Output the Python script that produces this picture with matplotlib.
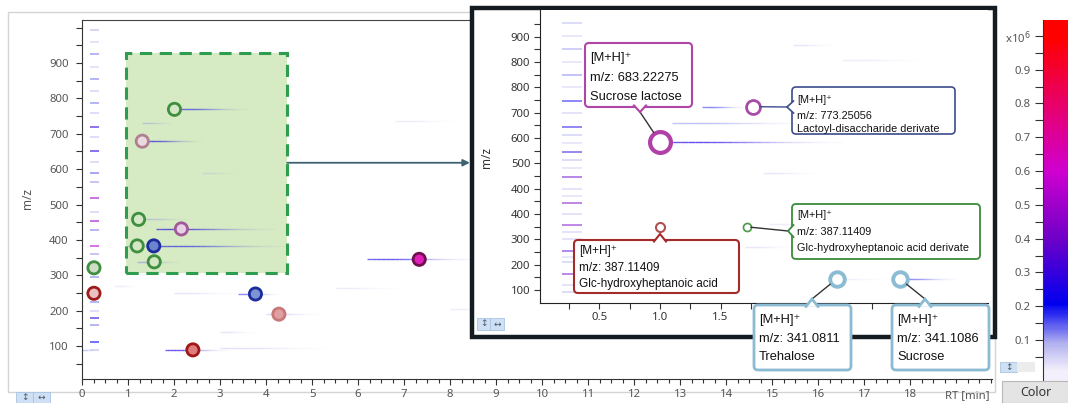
import numpy as np
import matplotlib
matplotlib.use("Agg")
import matplotlib.pyplot as plt
from matplotlib.colors import LinearSegmentedColormap
from matplotlib.patches import Rectangle, FancyBboxPatch, Polygon
from matplotlib.lines import Line2D
from matplotlib.collections import LineCollection

# ---- main chart: annotated features (RT [min], m/z)
main_rt = [2.01, 1.31, 1.23, 2.16, 1.20, 1.56, 1.57, 0.26, 7.33, 0.26, 3.77, 4.28, 2.41]
main_mz = [769, 679, 458, 431, 383, 383, 338, 321, 345, 249, 247, 190, 89]
main_edge = ['#3f8f3f', '#b08090', '#3f8f3f', '#a05898', '#3f8f3f', '#1c2c9c', '#3f8f3f',
             '#3f8f3f', '#701050', '#9c1c1c', '#1c2c9c', '#c87878', '#a01818']
main_face = ['#d4e8c6', '#eadadf', '#d4e8c6', '#e6d2e4', '#d4e8c6', '#6c84cc', '#d4e8c6',
             '#cfdcc6', '#e020b8', '#ecc0c0', '#7c94d4', '#e0a0a0', '#e07c7c']

# ion traces in main chart: (rt start, rt end, m/z, intensity 0-1)
main_streaks = [(2.05, 3.6, 769, 0.16), (1.35, 2.6, 679, 0.2), (1.25, 2.4, 458, 0.08),
                (1.6, 4.2, 431, 0.21), (1.6, 4.5, 383, 0.17), (1.0, 1.5, 383, 0.12),
                (1.2, 2.2, 338, 0.1), (6.2, 8.6, 345, 0.2), (3.4, 4.3, 247, 0.15),
                (4.0, 5.2, 190, 0.07), (1.8, 3.2, 89, 0.22), (3.0, 5.5, 95, 0.06),
                (1.3, 2.0, 730, 0.08), (6.8, 8.2, 735, 0.04), (9.5, 10.5, 560, 0.04),
                (8.0, 9.0, 205, 0.04), (2.0, 3.5, 250, 0.05), (3.0, 3.8, 140, 0.05),
                (0.0, 0.3, 90, 0.1), (5.5, 7.0, 265, 0.04), (2.6, 3.4, 590, 0.05),
                (0.7, 1.2, 270, 0.04)]
# short dashes of the early-eluting column
main_col_mz = [993, 960, 925, 890, 856, 820, 788, 760, 719, 690, 652, 620, 588, 564, 519,
               480, 452, 428, 382, 360, 330, 296, 260, 225, 200, 180, 158, 112, 90]
main_col_lv = [0.08, 0.05, 0.12, 0.05, 0.12, 0.06, 0.12, 0.06, 0.3, 0.06, 0.28, 0.06, 0.14,
               0.1, 0.5, 0.06, 0.5, 0.12, 0.55, 0.1, 0.06, 0.12, 0.06, 0.12, 0.06, 0.28,
               0.12, 0.2, 0.08]

# zoom rectangle (rt0, rt1, mz0, mz1)
zoom_rt = (0.96, 4.46)
zoom_mz = (307, 928)

# ---- inset (zoomed view)
ins_x = [1.0, 1.765, 1.0, 1.716, 2.458, 2.98]
ins_y = [685, 824, 347, 349, 143, 143]
ins_size = [15.0, 10, 6.5, 5.8, 10.5, 10.5]
ins_lw = [3.0, 2.0, 1.5, 1.2, 2.8, 2.8]
ins_edge = ['#b040a8', '#a84aa8', '#b05050', '#4a9a4a', '#8cbcd4', '#8cbcd4']
ins_xticks = [0.5, 1.0, 1.5, 2.0, 2.5, 3.0, 3.5]
ins_xtick_labels = ['0.5', '1.0', '1.5', '', '', '', '']   # the rest sit under the callouts
ins_ytick_labels = ['100', '200', '300', '400', '400', '500', '600', '700', '800', '800', '900']
ins_streaks = [(1.05, 2.5, 685, 0.22), (1.35, 1.72, 824, 0.15), (1.1, 2.3, 759, 0.1),
               (2.1, 2.45, 1067, 0.05), (1.85, 2.3, 561, 0.05), (1.7, 2.1, 268, 0.05),
               (3.0, 3.45, 143, 0.14), (2.4, 2.9, 143, 0.04), (2.5, 3.2, 1010, 0.04),
               (1.9, 2.4, 360, 0.04)]
ins_col_mz = [1156, 1105, 1051, 1000, 949, 900, 847, 800, 745, 712, 680, 643, 613, 580, 547,
              500, 470, 442, 400, 356, 330, 300, 255, 230, 210, 162, 120, 92]
ins_col_lv = [0.08, 0.05, 0.1, 0.05, 0.12, 0.05, 0.22, 0.06, 0.24, 0.08, 0.05, 0.26, 0.08,
              0.05, 0.38, 0.06, 0.05, 0.4, 0.06, 0.42, 0.06, 0.06, 0.36, 0.05, 0.08, 0.4,
              0.06, 0.08]

cb_ticks = [0.1, 0.2, 0.3, 0.4, 0.5, 0.6, 0.7, 0.8, 0.9, 1.0]
cb_labels = ['0.1', '0.2', '0.3', '0.4', '0.5', '0.6', '0.7', '0.8', '0.9', 'x10$^6$']

cmap = LinearSegmentedColormap.from_list('ms', [
    (0.0, '#f4f0fb'), (0.08, '#b4b4f0'), (0.2, '#0000f0'), (0.4, '#7000c8'),
    (0.6, '#d000d0'), (0.8, '#e8006a'), (1.0, '#ff0000')])

W, H = 1068, 403
fig = plt.figure(figsize=(W / 100, H / 100), dpi=100)
T = fig.dpi_scale_trans


def P(x, y):
    # figure pixel (from top-left) -> inches
    return (x / 100, (H - y) / 100)


def fa(x0, y0, x1, y1):
    return [x0 / W, (H - y1) / H, (x1 - x0) / W, (y1 - y0) / H]


def draw_streaks(ax, streaks):
    for x0, x1, y, lv in streaks:
        xs = np.linspace(x0, x1, 25)
        segs = [[(xs[i], y), (xs[i + 1], y)] for i in range(24)]
        t = np.linspace(0, 1, 24)
        prof = np.exp(-((t - 0.15) / 0.45) ** 2)
        amax = min(0.85, 0.15 + lv * 2.5)
        cols = [(*cmap(lv + 0.04)[:3], amax * p) for p in prof]
        ax.add_collection(LineCollection(segs, colors=cols, linewidths=1.0, zorder=2))


# outer panel
fig.patches.append(Rectangle(P(8, 392), 987 / 100, 380 / 100, transform=T, fc='white',
                             ec='#d4d4d4', lw=1, zorder=-1))

# ---- main axes
ax = fig.add_axes(fa(82, 20, 992, 379))
ax.set_xlim(0, 19.78)
ax.set_ylim(6.7, 1021.6)
ax.spines['right'].set_visible(False)
ax.spines['top'].set_color('#444')
ax.spines['left'].set_color('#333')
ax.spines['bottom'].set_color('#333')
ax.set_xticks(range(0, 19))
ax.set_xticks(np.arange(0, 19.8, 0.25), minor=True)
ax.set_yticks(range(100, 1000, 100))
ax.set_yticks(range(50, 1001, 50), minor=True)
ax.tick_params(axis='x', which='major', length=4, width=0.8, pad=3, labelsize=8.2,
               labelcolor='#555', color='#333')
ax.tick_params(axis='x', which='minor', length=3, width=0.8, color='#333')
ax.tick_params(axis='y', which='both', length=4.5, width=0.8, pad=5, labelsize=8.2,
               labelcolor='#555', color='#333')
for lab in ax.get_xticklabels() + ax.get_yticklabels():
    lab.set_family('Noto Sans')

ax.add_patch(Rectangle((zoom_rt[0], zoom_mz[0]), zoom_rt[1] - zoom_rt[0], zoom_mz[1] - zoom_mz[0],
                       fc='#d6eac3', ec='none', zorder=1))
ax.add_patch(Rectangle((zoom_rt[0], zoom_mz[0]), zoom_rt[1] - zoom_rt[0], zoom_mz[1] - zoom_mz[0],
                       fc='none', ec='#2e9e4e', lw=2.2, ls=(0, (4, 2.5)), zorder=4))
draw_streaks(ax, main_streaks)
ax.hlines(main_col_mz, 0.17, 0.38, colors=[cmap(v) for v in main_col_lv],
          alpha=0.6, lw=1.3, zorder=2)
ax.scatter(main_rt, main_mz, s=8.8 ** 2, c=main_face, edgecolors=main_edge,
           linewidths=2.0, zorder=5)
ax.annotate('', xy=(8.43, 618), xytext=(zoom_rt[1], 618),
            arrowprops=dict(arrowstyle='-|>', color='#3d6272', lw=1.3, shrinkA=0, shrinkB=0,
                            mutation_scale=10), zorder=4, annotation_clip=False)

fig.text(*P(28, 198), 'm/z', transform=T, rotation=90, ha='center', va='center',
         fontsize=8.5, color='#555', family='Noto Sans')
fig.text(*P(967, 396), 'RT [min]', transform=T, ha='center', va='center',
         fontsize=8.2, color='#555', family='Noto Sans')

# ---- inset border
fig.patches.append(Rectangle(P(472, 337), 523 / 100, 329 / 100, transform=T, fc='white',
                             ec='#141c22', lw=3.2, zorder=1))

ax2 = fig.add_axes(fa(540, 10, 988, 302.5), zorder=2)
ax2.set_xlim(0.0115, 3.705)
ax2.set_ylim(49.8, 1206)
for s in ['top', 'right']:
    ax2.spines[s].set_visible(False)
ax2.spines['left'].set_color('#222')
ax2.spines['bottom'].set_color('#222')
ax2.set_xticks(ins_xticks)
ax2.set_xticklabels(ins_xtick_labels)
ax2.set_xticks(np.arange(0.25, 3.71, 0.25), minor=True)
ax2.set_yticks(range(100, 1101, 100))
ax2.set_yticklabels(ins_ytick_labels)
ax2.set_yticks(range(150, 1151, 100), minor=True)
ax2.tick_params(axis='both', which='both', length=4, width=0.8, labelsize=8.2,
                labelcolor='#333', color='#333', pad=3)
for lab in ax2.get_xticklabels() + ax2.get_yticklabels():
    lab.set_family('Noto Sans')
draw_streaks(ax2, ins_streaks)
ax2.hlines(ins_col_mz, 0.19, 0.36, colors=[cmap(v) for v in ins_col_lv],
           alpha=0.55, lw=1.2, zorder=2)
for x, y, ms, lw, ec in zip(ins_x, ins_y, ins_size, ins_lw, ins_edge):
    ax2.plot(x, y, 'o', ms=ms, mfc='white', mec=ec, mew=lw, zorder=6)
fig.text(*P(486, 158), 'm/z', transform=T, rotation=90, ha='center', va='center',
         fontsize=8.5, color='#333', family='Noto Sans', zorder=3)


def callout(box, color, lw, lines, ys, fs, tail, target=None, lc='#333', shrink=6):
    x0, y0, x1, y1 = box
    ax2.add_patch(FancyBboxPatch(P(x0, y1), (x1 - x0) / 100, (y1 - y0) / 100,
                                 boxstyle='round,pad=0,rounding_size=0.04', transform=T,
                                 fc='white', ec=color, lw=lw, clip_on=False, zorder=8))
    pts = [P(*p) for p in tail]
    ax2.add_patch(Polygon(pts, closed=True, transform=T, fc='white', ec='none',
                          clip_on=False, zorder=9))
    ax2.add_line(Line2D([p[0] for p in pts], [p[1] for p in pts], transform=T, color=color,
                        lw=lw, clip_on=False, zorder=10, solid_joinstyle='miter'))
    for s, ly in zip(lines, ys):
        ax2.text(*P(x0 + 5, ly), s, transform=T, fontsize=fs, ha='left', va='center',
                 family=['Liberation Sans', 'DejaVu Sans'], color='#111', zorder=11,
                 clip_on=False)
    if target is not None:
        ax2.annotate('', xy=target, xycoords='data', xytext=pts[1], textcoords=T,
                     arrowprops=dict(arrowstyle='-', color=lc, lw=1.0, shrinkA=0,
                                     shrinkB=shrink), zorder=7, annotation_clip=False)


callout((585, 43, 692, 107), '#b045a8', 1.5,
        ['[M+H]⁺', 'm/z: 683.22275', 'Sucrose lactose'], [58, 78, 97], 9.3,
        [(634, 105.5), (640, 112), (646, 105.5)], target=(ins_x[0], ins_y[0]), shrink=8)
callout((792, 87, 955, 134), '#3c4c8c', 1.2,
        ['[M+H]⁺', 'm/z: 773.25056', 'Lactoyl-disaccharide derivate'], [100, 116, 129], 7.8,
        [(793.5, 101), (787, 107), (793.5, 113)], target=(ins_x[1], ins_y[1]), lc='#3c4c8c',
        shrink=5)
callout((792, 204, 980, 259), '#3a8c3a', 1.3,
        ['[M+H]⁺', 'm/z: 387.11409', 'Glc-hydroxyheptanoic acid derivate'], [215, 232, 248],
        7.8, [(793.5, 225), (788, 231), (793.5, 237)], target=(ins_x[3], ins_y[3]), shrink=3)
callout((574, 240, 739, 293), '#a52a2a', 1.5,
        ['[M+H]⁺', 'm/z: 387.11409', 'Glc-hydroxyheptanoic acid'], [251, 268, 284], 8.5,
        [(654, 241.5), (660, 234), (666, 241.5)])
callout((754, 305, 851, 370), '#8cbcd4', 2.0,
        ['[M+H]⁺', 'm/z: 341.0811', 'Trehalose'], [320, 339, 357], 9.3,
        [(806, 306.5), (812, 299), (818, 306.5)], target=(ins_x[4], ins_y[4]), shrink=6)
callout((892, 305, 989, 370), '#8cbcd4', 2.0,
        ['[M+H]⁺', 'm/z: 341.1086', 'Sucrose'], [320, 339, 357], 9.3,
        [(919, 306.5), (925, 299), (931, 306.5)], target=(ins_x[5], ins_y[5]), shrink=6)

# ---- colour scale
axc = fig.add_axes(fa(1043, 20, 1073, 382))
grad = np.linspace(-0.03, 1.05, 300).reshape(-1, 1)
axc.imshow(grad, aspect='auto', cmap=cmap, vmin=0, vmax=1, origin='lower',
           extent=[0, 1, -0.024, 1.047])
axc.set_xlim(0, 1)
axc.set_ylim(-0.024, 1.047)
axc.set_xticks([])
for s in ['top', 'right', 'bottom']:
    axc.spines[s].set_visible(False)
axc.spines['left'].set_color('#333')
axc.set_yticks(cb_ticks)
axc.set_yticklabels(cb_labels)
axc.set_yticks(np.arange(0.05, 1.0, 0.1), minor=True)
axc.tick_params(axis='y', which='major', length=6, width=0.8, pad=3, labelsize=8.2,
                labelcolor='#555', color='#333')
axc.tick_params(axis='y', which='minor', length=6, width=0.8, color='#333')
for lab in axc.get_yticklabels():
    lab.set_family('Noto Sans')

# ---- viewer widgets
fig.patches.append(Rectangle(P(1002, 403), 66 / 100, 22 / 100, transform=T, fc='#e4e4e4',
                             ec='#b8b8b8', lw=0.8, zorder=3))
fig.text(*P(1036, 393), 'Color', transform=T, ha='center', va='center', fontsize=9,
         color='#333', family='Noto Sans', zorder=4)
for (bx, by, bw, bh, glyph) in [(16, 392, 17, 11, '↕'), (33, 392, 17, 11, '↔'),
                                 (477, 318, 13, 12, '↕'), (490, 318, 14, 12, '↔'),
                                 (1000, 362, 17, 10, '↕')]:
    fig.patches.append(Rectangle(P(bx, by + bh), bw / 100, bh / 100, transform=T,
                                 fc='#cfe0f4', ec='#a8c4e4', lw=0.6, zorder=3))
    fig.text(*P(bx + bw / 2, by + bh / 2), glyph, transform=T, ha='center', va='center',
             fontsize=6.5, color='#4a5a70', zorder=4)
fig.patches.append(Rectangle(P(1017, 372), 18 / 100, 10 / 100, transform=T, fc='#ececec',
                             ec='none', zorder=3))

fig.savefig('out.png', dpi=100)
